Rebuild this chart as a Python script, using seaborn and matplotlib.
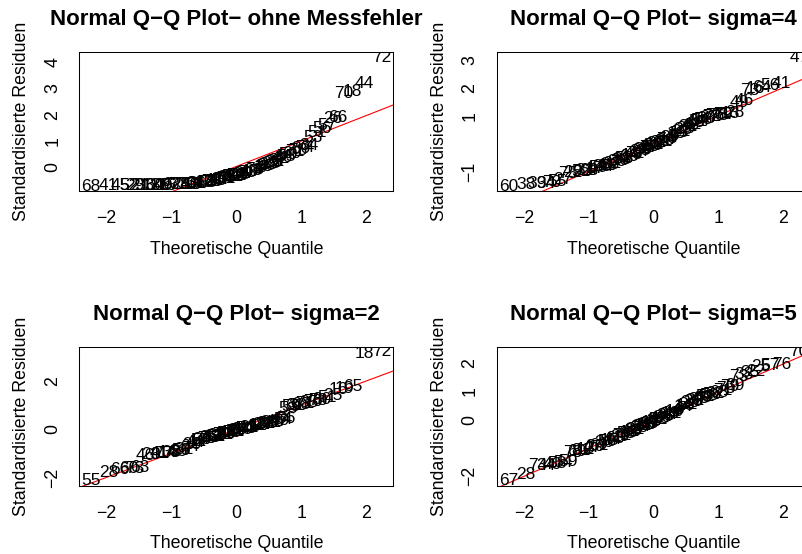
import matplotlib
matplotlib.use("Agg")
import matplotlib.pyplot as plt
import seaborn as sns
import pandas as pd

# Theoretical normal quantiles, shared by the four residual samples (n = 80)
theo_q = [-2.24, -1.97, -1.79, -1.66, -1.57, -1.49, -1.40, -1.32, -1.25, -1.18,
          -1.12, -1.06, -1.00, -0.95, -0.90, -0.85, -0.80, -0.76, -0.72, -0.68,
          -0.64, -0.60, -0.56, -0.525, -0.49, -0.455, -0.42, -0.39, -0.355, -0.32,
          -0.29, -0.26, -0.225, -0.195, -0.165, -0.135, -0.105, -0.075, -0.045, -0.015,
          0.015, 0.045, 0.075, 0.105, 0.135, 0.165, 0.195, 0.225, 0.26, 0.29,
          0.32, 0.355, 0.39, 0.42, 0.455, 0.49, 0.525, 0.56, 0.60, 0.64,
          0.68, 0.72, 0.76, 0.80, 0.85, 0.90, 0.95, 1.00, 1.06, 1.12,
          1.18, 1.25, 1.32, 1.40, 1.49, 1.57, 1.66, 1.79, 1.97, 2.24]

# Sorted standardised residuals per model
resid_ohne = [-0.73, -0.72, -0.72, -0.71, -0.71, -0.71, -0.70, -0.70, -0.70, -0.69,
              -0.69, -0.69, -0.68, -0.68, -0.67, -0.67, -0.66, -0.66, -0.65, -0.65,
              -0.64, -0.63, -0.62, -0.61, -0.60, -0.58, -0.57, -0.55, -0.54, -0.52,
              -0.50, -0.49, -0.47, -0.45, -0.43, -0.41, -0.39, -0.37, -0.35, -0.33,
              -0.31, -0.29, -0.27, -0.25, -0.23, -0.21, -0.19, -0.16, -0.14, -0.11,
              -0.08, -0.05, -0.02, 0.01, 0.05, 0.09, 0.13, 0.17, 0.21, 0.26,
              0.31, 0.36, 0.41, 0.46, 0.52, 0.58, 0.64, 0.70, 0.76, 0.82,
              1.12, 1.30, 1.48, 1.58, 1.86, 1.90, 2.80, 2.88, 3.19, 4.19]
resid_s4 = [-1.52, -1.47, -1.44, -1.41, -1.38, -1.35, -1.28, -1.05, -1.03, -1.01,
            -0.99, -0.97, -0.95, -0.92, -0.89, -0.86, -0.83, -0.80, -0.77, -0.74,
            -0.71, -0.67, -0.63, -0.60, -0.56, -0.52, -0.49, -0.45, -0.42, -0.38,
            -0.35, -0.32, -0.28, -0.25, -0.21, -0.18, -0.15, -0.12, -0.09, -0.06,
            -0.03, 0.00, 0.03, 0.06, 0.09, 0.12, 0.15, 0.18, 0.22, 0.26,
            0.30, 0.35, 0.40, 0.45, 0.50, 0.55, 0.60, 0.65, 0.70, 0.75,
            0.80, 0.84, 0.88, 0.91, 0.94, 0.97, 1.00, 1.02, 1.04, 1.06,
            1.09, 1.12, 1.48, 1.53, 1.92, 1.97, 2.03, 2.09, 2.14, 3.10]
resid_s2 = [-2.10, -1.75, -1.63, -1.61, -1.59, -1.57, -1.07, -1.04, -1.02, -1.00,
            -0.98, -0.96, -0.94, -0.92, -0.89, -0.86, -0.82, -0.77, -0.70, -0.62,
            -0.55, -0.50, -0.46, -0.43, -0.40, -0.37, -0.34, -0.31, -0.29, -0.27,
            -0.25, -0.23, -0.21, -0.19, -0.17, -0.15, -0.13, -0.11, -0.09, -0.07,
            -0.05, -0.03, -0.01, 0.01, 0.03, 0.05, 0.07, 0.09, 0.11, 0.13,
            0.15, 0.17, 0.19, 0.21, 0.23, 0.25, 0.27, 0.29, 0.31, 0.33,
            0.36, 0.40, 0.46, 0.88, 0.93, 0.97, 1.00, 1.03, 1.06, 1.10,
            1.14, 1.18, 1.24, 1.32, 1.40, 1.66, 1.70, 1.76, 3.12, 3.19]
resid_s5 = [-2.17, -1.97, -1.64, -1.62, -1.60, -1.57, -1.52, -1.48, -1.16, -1.13,
            -1.10, -1.07, -1.04, -1.00, -0.96, -0.92, -0.87, -0.83, -0.79, -0.75,
            -0.71, -0.67, -0.63, -0.59, -0.55, -0.52, -0.48, -0.45, -0.42, -0.38,
            -0.35, -0.32, -0.28, -0.25, -0.22, -0.19, -0.16, -0.13, -0.10, -0.07,
            -0.04, -0.01, 0.02, 0.05, 0.08, 0.11, 0.14, 0.17, 0.20, 0.23,
            0.27, 0.31, 0.35, 0.40, 0.46, 0.51, 0.55, 0.59, 0.63, 0.67,
            0.71, 0.74, 0.78, 0.81, 0.85, 0.89, 0.93, 0.98, 1.05, 1.12,
            1.16, 1.20, 1.55, 1.60, 1.66, 1.70, 1.88, 1.93, 1.95, 2.41]

# Observation numbers written at each point
ids_ohne = [68, 41, 45, 52, 29, 21, 33, 11, 60, 36,
            49, 15, 62, 3, 77, 24, 8, 39, 50, 13,
            64, 31, 6, 47, 19, 58, 2, 75, 38, 10,
            43, 67, 27, 14, 61, 35, 5, 54, 22, 79,
            12, 48, 65, 30, 1, 73, 40, 17, 63, 76,
            4, 7, 9, 16, 20, 23, 25, 28, 32, 37,
            42, 46, 55, 59, 69, 71, 78, 80, 74, 34,
            53, 51, 56, 57, 26, 66, 70, 18, 44, 72]
ids_s4 = [60, 38, 39, 34, 70, 55, 27, 75, 22, 9,
          52, 31, 68, 4, 17, 59, 25, 44, 11, 36,
          62, 7, 80, 20, 33, 53, 1, 66, 14, 43,
          71, 3, 24, 65, 30, 8, 45, 77, 19, 50,
          12, 35, 69, 2, 61, 26, 74, 18, 37, 5,
          6, 10, 15, 21, 23, 29, 32, 40, 42, 48,
          51, 54, 58, 63, 67, 72, 76, 78, 79, 57,
          13, 28, 49, 46, 73, 16, 64, 56, 41, 47]
ids_s2 = [55, 28, 66, 60, 73, 63, 46, 23, 9, 41,
          77, 14, 38, 2, 69, 50, 31, 7, 64, 20,
          44, 11, 57, 36, 4, 75, 26, 48, 13, 62,
          33, 1, 70, 22, 58, 40, 17, 79, 6, 52,
          29, 67, 34, 10, 74, 43, 21, 3, 5, 8,
          12, 15, 24, 27, 32, 37, 39, 42, 45, 47,
          49, 54, 56, 53, 59, 61, 30, 68, 71, 35,
          76, 78, 80, 51, 25, 16, 19, 65, 18, 72]
ids_s5 = [67, 28, 74, 34, 40, 58, 54, 59, 78, 69,
          81, 12, 3, 47, 20, 61, 9, 36, 50, 15,
          44, 63, 1, 29, 72, 8, 55, 18, 42, 66,
          31, 5, 60, 24, 11, 48, 38, 65, 17, 43,
          2, 27, 52, 13, 80, 46, 30, 64, 19, 41,
          10, 4, 6, 7, 14, 16, 21, 23, 26, 32,
          37, 45, 49, 51, 53, 56, 62, 68, 71, 75,
          79, 39, 73, 33, 35, 22, 25, 57, 76, 70]

# Reference line (through the quartiles): intercept and slope
qq_intercept = [0.02, 0.01, 0.01, -0.02]
qq_slope = [0.97, 1.00, 0.99, 1.00]

titles = ["Normal Q\u2212Q Plot\u2212 ohne Messfehler",
          "Normal Q\u2212Q Plot\u2212 sigma=4",
          "Normal Q\u2212Q Plot\u2212 sigma=2",
          "Normal Q\u2212Q Plot\u2212 sigma=5"]

x_ticks = [-2, -1, 0, 1, 2]
x_ticklabels = ["\u22122", "\u22121", "0", "1", "2"]
y_ticks = [[0, 1, 2, 3, 4], [-1, 0, 1, 2, 3], [-2, -1, 0, 1, 2, 3], [-2, -1, 0, 1, 2]]
y_ticklabels = [["0", "1", "2", "3", "4"],
                ["\u22121", "", "1", "2", "3"],
                ["\u22122", "", "0", "", "2", ""],
                ["\u22122", "", "0", "1", "2"]]

residuals = [resid_ohne, resid_s4, resid_s2, resid_s5]
obs_ids = [ids_ohne, ids_s4, ids_s2, ids_s5]

sns.set_theme(style="white")
plt.rcParams["font.family"] = ["Liberation Sans", "DejaVu Sans"]
plt.rcParams["axes.unicode_minus"] = True
for key in ("text.color", "axes.labelcolor", "xtick.color", "ytick.color"):
    plt.rcParams[key] = "black"

W, H = 802, 554
fig = plt.figure(figsize=(W / 100, H / 100), dpi=100)

# plot boxes in pixels: left, top, right, bottom
boxes = [(79.3, 52.0, 393.3, 191.3), (496.7, 52.0, 810.5, 191.3),
         (79.3, 346.7, 393.3, 485.7), (496.7, 346.7, 810.5, 485.7)]

FS_POINT = 12.5
FS_AXIS = 12.8
FS_TITLE = 16.0


def padded(vals):
    lo, hi = min(vals), max(vals)
    d = 0.04 * (hi - lo)
    return lo - d, hi + d


for k in range(4):
    l, t, r, b = boxes[k]
    ax = fig.add_axes([l / W, 1 - b / H, (r - l) / W, (b - t) / H])
    df = pd.DataFrame({"q": theo_q, "res": residuals[k], "id": obs_ids[k]})

    xlim = padded(df["q"])
    ylim = padded(df["res"])
    ax.set_xlim(*xlim)
    ax.set_ylim(*ylim)

    for q, res, i in zip(df["q"], df["res"], df["id"]):
        ax.text(q, res, str(i), ha="center", va="center", fontsize=FS_POINT,
                color="black", clip_on=True)

    line = pd.DataFrame({"q": list(xlim)})
    line["fit"] = qq_intercept[k] + qq_slope[k] * line["q"]
    sns.lineplot(data=line, x="q", y="fit", color="red", linewidth=0.8, ax=ax)

    ax.set_xticks(x_ticks)
    ax.set_xticklabels(x_ticklabels)
    ax.set_yticks(y_ticks[k])
    ax.set_yticklabels(y_ticklabels[k])
    ax.tick_params(axis="both", direction="out", length=5.4, width=0.75,
                   color="black", labelsize=FS_AXIS, labelcolor="black")
    ax.tick_params(axis="x", pad=14.5)
    ax.tick_params(axis="y", pad=13.8)
    for lab in ax.get_xticklabels():
        lab.set_va("center")
    for lab in ax.get_yticklabels():
        lab.set_rotation(90)
        lab.set_ha("center")
        lab.set_va("center")
    for s in ax.spines.values():
        s.set_color("black")
        s.set_linewidth(0.75)
    ax.set_xlabel("")
    ax.set_ylabel("")

    ax.annotate(titles[k], xy=(0.5, 1), xycoords="axes fraction",
                xytext=(0, 32), textcoords="offset pixels",
                ha="center", va="center", fontsize=FS_TITLE, fontweight="bold")
    ax.annotate("Theoretische Quantile", xy=(0.5, 0), xycoords="axes fraction",
                xytext=(0, -58), textcoords="offset pixels",
                ha="center", va="center", fontsize=FS_AXIS)
    ax.annotate("Standardisierte Residuen", xy=(0, 0.5), xycoords="axes fraction",
                xytext=(-57.5, 0), textcoords="offset pixels",
                ha="center", va="center", rotation=90, fontsize=FS_AXIS)

fig.savefig("out.png", dpi=100)
